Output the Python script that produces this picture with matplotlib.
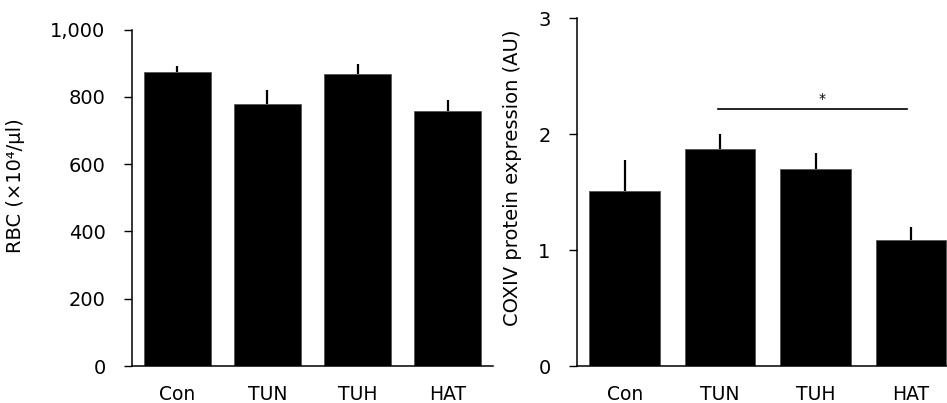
import matplotlib
matplotlib.use("Agg")
import matplotlib.pyplot as plt
from matplotlib.ticker import FuncFormatter

plt.rcParams['font.family'] = ['DejaVu Sans']

categories = ["Con", "TUN", "TUH", "HAT"]
rbc_mean = [874, 778, 869, 759]
rbc_err = [17, 43, 28, 32]
cox_mean = [1.513, 1.872, 1.703, 1.085]
cox_err = [0.264, 0.130, 0.132, 0.117]

W, H = 947, 403
fig = plt.figure(figsize=(W / 100, H / 100), dpi=100)

ax1 = fig.add_axes([132 / W, 1 - 366 / H, (493 - 132) / W, (366 - 29.7) / H])
ax2 = fig.add_axes([577 / W, 1 - 366 / H, (4 * 95.4) / W, (366 - 18.3) / H])

x = list(range(len(categories)))
for ax, mean, err in [(ax1, rbc_mean, rbc_err), (ax2, cox_mean, cox_err)]:
    ax.bar(x, mean, width=0.74, color='black', edgecolor='#555555', linewidth=0.6, zorder=2)
    ax.errorbar(x, mean, yerr=[[0] * len(err), err], fmt='none', ecolor='black',
                elinewidth=1.6, capsize=0, zorder=1)
    ax.set_xlim(-0.5, 3.5)
    ax.set_xticks(x)
    ax.set_xticklabels(categories, fontsize=13.5)
    ax.tick_params(axis='x', length=0, pad=14)
    ax.tick_params(axis='y', direction='out', length=6, width=1, pad=13, labelsize=14)
    for s in ['top', 'right']:
        ax.spines[s].set_visible(False)
    for s in ['left', 'bottom']:
        ax.spines[s].set_linewidth(1.1)

ax1.set_ylim(0, 1000)
ax1.set_yticks([0, 200, 400, 600, 800, 1000])
ax1.yaxis.set_major_formatter(FuncFormatter(lambda v, p: f"{int(v):,}"))
ax1.set_ylabel("RBC (×10⁴/μl)", fontsize=14)
ax1.yaxis.set_label_coords(-(132 - 25) / (493 - 132), 0.535)

ax2.set_ylim(0, 3)
ax2.set_yticks([0, 1, 2, 3])
ax2.set_ylabel("COXIV protein expression (AU)", fontsize=14)
ax2.yaxis.set_label_coords(-(577 - 522) / (4 * 95.4), 0.542)

ax2.plot([0.98, 2.96], [2.22, 2.22], color='black', lw=1.2, clip_on=False)
ax2.text(2.07, 2.24, "*", ha='center', va='bottom', fontsize=10)

fig.savefig("out.png", dpi=100)
